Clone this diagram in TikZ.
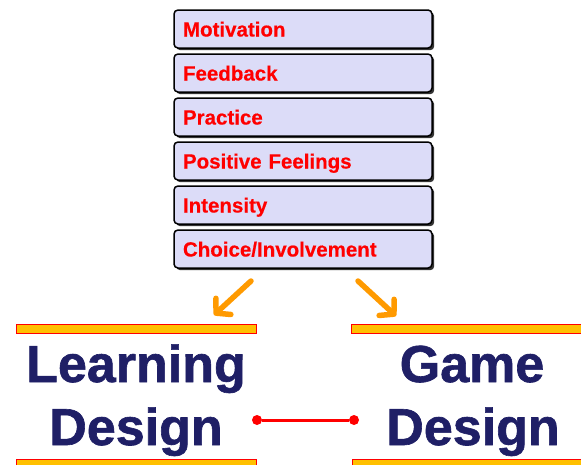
\documentclass[tikz,border=0pt]{standalone}
\usepackage{fontspec}
\setmainfont{Liberation Sans}
\newfontfamily\heavyfont[FakeBold=1.2]{Liberation Sans Bold}
\newfontfamily\labelfont[FakeBold=0.4]{Liberation Sans Bold}
\usetikzlibrary{positioning,arrows.meta,shadows}

\definecolor{boxfill}{HTML}{DCDCF8}
\definecolor{navy}{HTML}{1F1F66}
\definecolor{arrow}{HTML}{FF9A00}
\definecolor{bar}{HTML}{FFC000}

\begin{document}
\begin{tikzpicture}[x=1pt,y=-1pt,node distance=4.5pt,
    factor/.style={draw,line width=1.5pt,rounded corners=4pt,fill=boxfill,
      minimum height=38pt,text width=240pt,inner xsep=9pt,align=left,
      text height=15pt,text depth=0pt,
      font=\fontsize{20.5}{24}\selectfont\labelfont,text=red,
      drop shadow={shadow xshift=2.2pt,shadow yshift=-2.2pt,fill=black,opacity=.8}},
    bar/.style={draw=red,line width=0.6pt,fill=bar,minimum height=9pt,inner sep=0pt},
    design/.style={anchor=base,font=\fontsize{52}{63}\selectfont\heavyfont,text=navy},
    dot/.style={circle,fill=red,minimum size=10pt,inner sep=0pt},
    push/.style={arrow,line width=5.5pt,line cap=round,
      -{Straight Barb[length=10pt,width=22pt,round]}}]
    \useasboundingbox (0,0) rectangle (581,464);

    % the six factors
    \node[factor] (motivation) at (303,29) {Motivation};
    \node[factor] (feedback) [below=of motivation] {Feedback};
    \node[factor] (practice) [below=of feedback] {Practice};
    \node[factor] (feelings) [below=of practice] {Positive Feelings};
    \node[factor] (intensity) [below=of feelings] {Intensity};
    \node[factor] (choice) [below=of intensity] {Choice/Involvement};

    % bars above and below each side
    \node[bar,minimum width=240pt] (learntop) at (136,328.5) {};
    \node[bar,minimum width=240pt] (learnbottom) at (136,463.5) {};
    \node[bar,minimum width=232pt] (gametop) at (467,328.5) {};
    \node[bar,minimum width=232pt] (gamebottom) at (468,463.5) {};

    \node[design] (learning) at (136,382) {Learning};
    \node[design] (learndesign) at (136,445) {Design};
    \node[design] (game) at (472,382) {Game};
    \node[design] (gamedesign) at (473,445) {Design};

    % arrows out of the stack
    \coordinate (ltail) at (251,281);
    \coordinate (lhead) at (214,315);
    \coordinate (rtail) at (358,281);
    \coordinate (rhead) at (396,316);
    \draw[push] (ltail) -- (lhead);
    \draw[push] (rtail) -- (rhead);

    % link between the two designs
    \node[dot] (ldot) at (257,420) {};
    \node[dot] (gdot) at (354,420) {};
    \draw[red,line width=3pt] (ldot) -- (gdot);
\end{tikzpicture}
\end{document}
